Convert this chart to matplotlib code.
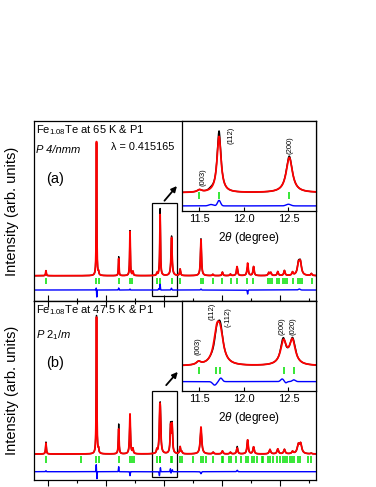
import matplotlib
matplotlib.use("Agg")
import matplotlib.pyplot as plt
import numpy as np
from matplotlib.patches import Rectangle

plt.rcParams["font.family"] = ["Liberation Sans", "DejaVu Sans"]
plt.rcParams["mathtext.fontset"] = "custom"
plt.rcParams["mathtext.rm"] = "Liberation Sans"
plt.rcParams["mathtext.it"] = "Liberation Sans:italic"

# ---------------------------------------------------------------------------
# Data (2theta in degrees, intensities in arb. units)
# ---------------------------------------------------------------------------

# (a) 65 K, P4/nmm -- calculated profile peaks
peaks_a_pos    = [3.84, 7.33, 7.47, 8.86, 9.64, 9.84, 11.50, 11.72, 12.51, 13.10, 14.54, 15.36,
                  16.02, 16.57, 17.03, 17.76, 18.17, 19.22, 19.36, 19.84, 20.30, 20.86, 21.27, 21.40, 22.16]
peaks_a_height = [5, 134, 3, 17, 44, 4, 2.5, 61, 38, 6.5, 36, 1.3,
                  3.5, 1.6, 9, 12.5, 9, 3, 3, 4, 5, 3.2, 11, 12, 2]
peaks_a_fwhm   = [0.05, 0.04, 0.05, 0.045, 0.05, 0.06, 0.06, 0.055, 0.085, 0.07, 0.08, 0.08,
                  0.08, 0.08, 0.09, 0.09, 0.09, 0.1, 0.1, 0.1, 0.1, 0.1, 0.18, 0.18, 0.1]

# (a) difference curve features (obs - calc)
diff_a_pos = [7.31, 7.35, 8.86, 9.64, 11.63, 11.72, 12.50, 14.54, 17.76, 21.33]
diff_a_amp = [2, -7, 2, 1, 1.5, 6, 1.8, 1, -4, 1]
diff_a_wid = [0.03, 0.03, 0.04, 0.04, 0.06, 0.04, 0.06, 0.06, 0.05, 0.15]

# (a) Bragg reflection positions
bragg_a = [3.84, 7.29, 7.47, 8.85, 9.61, 9.81, 11.50, 11.72, 12.51, 13.10, 14.53, 14.67, 15.36,
           16.02, 16.60, 17.01, 17.74, 18.16, 19.19, 19.31, 19.43, 19.77, 19.91, 20.23, 20.34,
           20.46, 20.88, 21.26, 21.38, 21.50, 22.19]

# (b) 47.5 K, P2_1/m -- calculated profile peaks
peaks_b_pos    = [3.84, 7.33, 7.47, 8.86, 9.64, 9.84, 11.49, 11.695, 11.735, 12.445, 12.545, 13.10,
                  13.22, 14.54, 15.38, 16.02, 16.57, 17.04, 17.76, 18.17, 19.30, 19.84, 20.30, 20.86,
                  21.26, 21.42, 22.15]
peaks_b_height = [11, 137, 4, 25, 40, 5, 3.5, 33, 29, 26.5, 27.5, 7,
                  2, 27, 1.7, 3, 1.7, 6, 14, 7, 4.5, 5, 4.5, 2.3,
                  8.5, 9.5, 0.7]
peaks_b_fwhm   = [0.06, 0.045, 0.05, 0.06, 0.07, 0.07, 0.06, 0.085, 0.085, 0.08, 0.08, 0.08,
                  0.08, 0.12, 0.1, 0.1, 0.1, 0.1, 0.1, 0.1, 0.12, 0.12, 0.12, 0.12,
                  0.18, 0.18, 0.1]

# (b) difference curve features
diff_b_pos = [3.84, 7.31, 7.36, 8.86, 9.64, 11.67, 11.74, 12.43, 12.47, 12.56, 14.54, 17.04]
diff_b_amp = [1, 7, -7, 5, -4, -4, 4, 3, -1.5, 2, -2, 1.5]
diff_b_wid = [0.04, 0.03, 0.03, 0.04, 0.04, 0.05, 0.04, 0.04, 0.03, 0.04, 0.08, 0.08]

# (b) Bragg reflection positions
bragg_b = [3.84, 6.26, 7.29, 7.47, 8.85, 9.61, 9.77, 9.93, 11.50, 11.69, 11.73, 12.45, 12.56,
           13.10, 13.22, 14.02, 14.53, 14.71, 14.90, 15.40, 15.98, 16.09, 16.50, 16.62, 16.97,
           17.29, 17.66, 17.77, 18.09, 18.23, 18.43, 18.74, 18.85, 19.19, 19.31, 19.54, 19.81,
           20.00, 20.19, 20.34, 20.46, 20.69, 20.85, 20.97, 21.26, 21.38, 21.95, 22.12]

labels_a = ["(003)", "(112)", "(200)"]
labels_b = ["(003)", "(112)", "(-112)", "(200)", "(020)"]


def lorentz_sum(x, pos, height, fwhm):
    y = np.zeros_like(x)
    for p, h, w in zip(pos, height, fwhm):
        y += h / (1 + ((x - p) / (w / 2)) ** 2)
    return y


def gauss_sum(x, pos, amp, wid):
    y = np.zeros_like(x)
    for p, a, w in zip(pos, amp, wid):
        y += a * np.exp(-4 * np.log(2) * (x - p) ** 2 / w ** 2)
    return y


def draw_pattern(ax, x, pk, df, bragg, base, dbase, tlo, thi):
    calc = lorentz_sum(x, *pk)
    diff = gauss_sum(x, *df)
    ax.plot(x, calc + diff + base, color="black", lw=1.0)
    ax.plot(x, calc + base, color="red", lw=1.3)
    ax.plot(x, diff + dbase, color="blue", lw=1.0)
    ax.vlines(bragg, tlo, thi, color="#00e000", lw=1.1)


XLIM = (2.98, 22.48)
ILIM = (11.30, 12.81)
x_main = np.linspace(*XLIM, 30000)
x_ins = np.linspace(*ILIM, 4000)

fig = plt.figure(figsize=(3.76, 4.87), dpi=100)
ax_a = fig.add_axes([0.0891, 0.3819, 0.7513, 0.3696])
ax_b = fig.add_axes([0.0891, 0.0144, 0.7513, 0.3675])

pk_a = (peaks_a_pos, peaks_a_height, peaks_a_fwhm)
df_a = (diff_a_pos, diff_a_amp, diff_a_wid)
pk_b = (peaks_b_pos, peaks_b_height, peaks_b_fwhm)
df_b = (diff_b_pos, diff_b_amp, diff_b_wid)

draw_pattern(ax_a, x_main, pk_a, df_a, bragg_a, 25.3, 11.0, 17.0, 22.7)
draw_pattern(ax_b, x_main, pk_b, df_b, bragg_b, 26.0, 8.3, 17.0, 24.3)
ax_a.set_ylim(0, 180)
ax_b.set_ylim(0, 179.3)

for ax in (ax_a, ax_b):
    ax.set_xlim(*XLIM)
    ax.set_yticks([])
    ax.set_xticks(np.arange(4, 23, 4))
    ax.set_xticks(np.arange(6, 23, 4), minor=True)
    ax.tick_params(axis="x", which="both", labelbottom=False, width=0.8)
    ax.tick_params(axis="x", which="major", length=4.3)
    ax.tick_params(axis="x", which="minor", length=2.5)
    ax.set_ylabel("Intensity (arb. units)", fontsize=10.5)
    ax.yaxis.set_label_coords(-0.05, 0.5)
    for s in ax.spines.values():
        s.set_linewidth(0.9)

ax_a.tick_params(axis="x", which="both", direction="in")
ax_b.tick_params(axis="x", which="both", direction="out")
top_b = ax_b.secondary_xaxis("top")
top_b.set_xticks(np.arange(4, 23, 4))
top_b.set_xticks(np.arange(6, 23, 4), minor=True)
top_b.tick_params(axis="x", which="both", direction="in", labeltop=False, width=0.8)
top_b.tick_params(axis="x", which="major", length=4.3)
top_b.tick_params(axis="x", which="minor", length=2.5)

# text annotations
ax_a.text(0.009, 0.932, "Fe$_{1.08}$Te at 65 K & P1", transform=ax_a.transAxes, fontsize=8, va="baseline")
ax_a.text(0.009, 0.821, "P 4/nmm", transform=ax_a.transAxes, fontsize=8, style="italic", va="baseline")
ax_a.text(0.274, 0.839, "λ = 0.415165", transform=ax_a.transAxes, fontsize=7.8, va="baseline")
ax_a.text(0.043, 0.676, "(a)", transform=ax_a.transAxes, fontsize=10.5, va="center")

ax_b.text(0.009, 0.930, "Fe$_{1.08}$Te at 47.5 K & P1", transform=ax_b.transAxes, fontsize=8, va="baseline")
ax_b.text(0.009, 0.790, "$P$ $2_1/m$", transform=ax_b.transAxes, fontsize=8, va="baseline")
ax_b.text(0.043, 0.651, "(b)", transform=ax_b.transAxes, fontsize=10.5, va="center")

# zoom boxes and arrows
ax_a.add_patch(Rectangle((11.19, 5.3), 1.73, 93.0, fill=False, ec="black", lw=0.9))
ax_b.add_patch(Rectangle((11.15, 3.3), 1.77, 86.0, fill=False, ec="black", lw=0.9))
arrow = dict(arrowstyle="-|>", color="black", lw=1.3, mutation_scale=8, shrinkA=0, shrinkB=0)
ax_a.annotate("", xy=(12.88, 115), xytext=(12.02, 100.3), arrowprops=arrow)
ax_b.annotate("", xy=(12.94, 108.3), xytext=(12.14, 95), arrowprops=arrow)

# insets
ins_a = fig.add_axes([0.4832, 0.5674, 0.3572, 0.1841])
ins_b = fig.add_axes([0.4832, 0.1977, 0.3572, 0.1842])
draw_pattern(ins_a, x_ins, pk_a, df_a, bragg_a, 25.3, 11.0, 18.5, 25.7)
draw_pattern(ins_b, x_ins, pk_b, df_b, bragg_b, 26.0, 8.3, 17.0, 24.5)
ins_a.set_ylim(5.8, 103.2)
ins_b.set_ylim(-2.1, 100.2)

for ins in (ins_a, ins_b):
    ins.set_xlim(*ILIM)
    ins.set_yticks([])
    ins.set_xticks([11.5, 12.0, 12.5])
    ins.tick_params(axis="x", direction="in", length=3, width=0.8, labelsize=8, pad=2.5)
    ins.set_xlabel(r"2$\theta$ (degree)", fontsize=8.5, labelpad=4)
    for s in ins.spines.values():
        s.set_linewidth(0.9)

lab_a_x = [11.538, 11.856, 12.52]
lab_a_y = [42.6, 87.7, 76.9]
for t, xx, yy in zip(labels_a, lab_a_x, lab_a_y):
    ins_a.text(xx, yy, t, rotation=90, fontsize=5.5, ha="center", va="center")

lab_b_x = [11.48, 11.64, 11.826, 12.43, 12.556]
lab_b_y = [49, 88.8, 82, 71.8, 71.8]
for t, xx, yy in zip(labels_b, lab_b_x, lab_b_y):
    ins_b.text(xx, yy, t, rotation=90, fontsize=5.5, ha="center", va="center")

fig.savefig("out.png", dpi=100)
